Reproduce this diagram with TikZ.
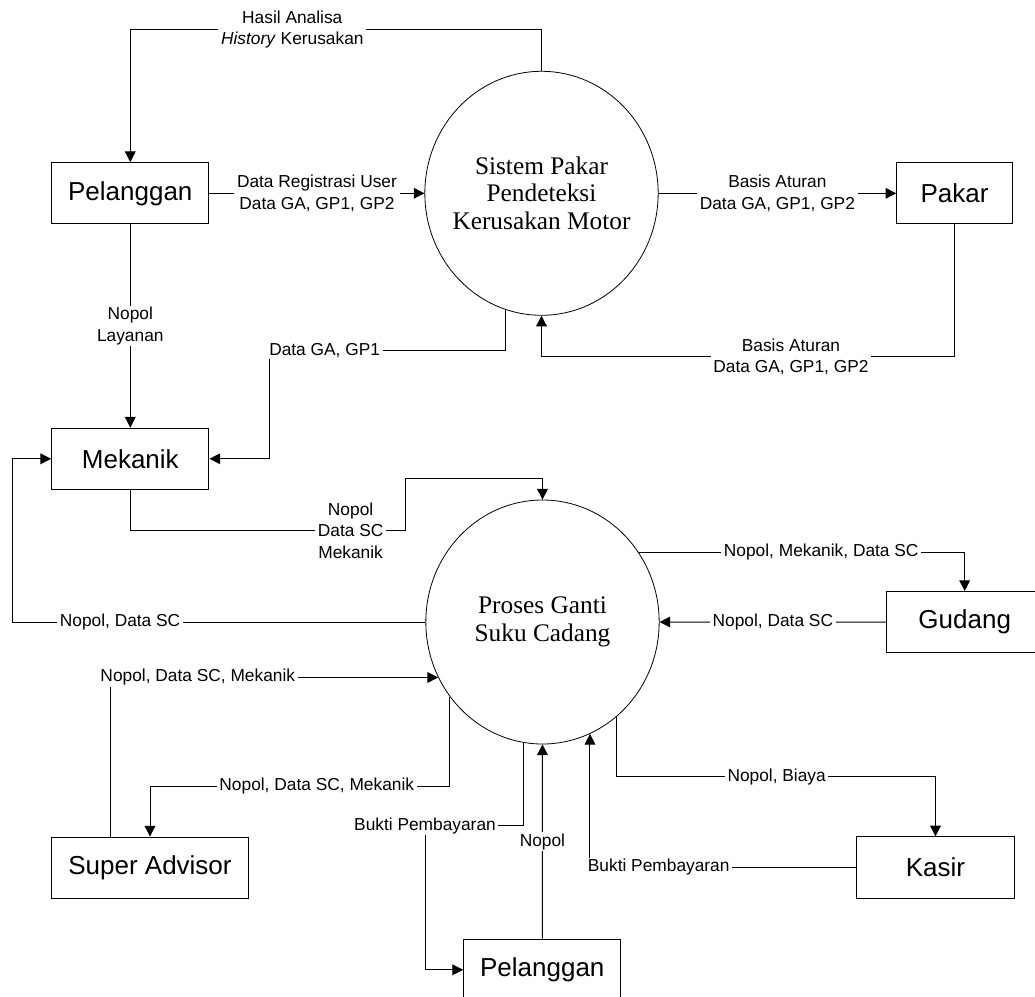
\documentclass[tikz,border=0pt]{standalone}
\usepackage{fontspec}
\setmainfont{Liberation Serif}
\setsansfont{Liberation Sans}
\usepackage{tikz}
\usetikzlibrary{positioning}
\usetikzlibrary{shapes.geometric}
\usetikzlibrary{arrows.meta}

\begin{document}
\begin{tikzpicture}[
  x=0.75pt, y=-0.75pt,
  font=\sffamily,
  % --- styles ---
  entity/.style={
    draw, line width=0.75pt, inner sep=0pt,
    minimum width=118pt, minimum height=46pt,
    font=\sffamily\fontsize{19.5}{23}\selectfont
  },
  process/.style={
    draw, ellipse, line width=0.6pt, inner sep=0pt,
    minimum width=175pt, minimum height=183pt
  },
  proctext/.style={align=center, inner sep=0pt, font=\rmfamily\fontsize{19}{20.6}\selectfont},
  flow/.style={-{Triangle[length=8pt, width=8pt]}, line width=0.75pt},
  lab/.style={fill=white, align=center, inner xsep=2pt, inner ysep=1pt,
    font=\sffamily\fontsize{13}{16}\selectfont}
]
\useasboundingbox (0,0) rectangle (1035,996);

% ======================================================
% Processes
% ======================================================
\node[process] (sys)  at (541.5,193.3) {};
\node[proctext] (sys-txt) at (sys) {Sistem Pakar\\Pendeteksi\\Kerusakan Motor};
\node[process] (proc) at (542.5,622) {};
\node[proctext] (proc-txt) at (proc) {Proses Ganti\\Suku Cadang};

% ======================================================
% External entities
% ======================================================
\node[entity] (pel1)  at (130.3,193.3) {Pelanggan};
\node[entity, minimum width=86.7pt] (pakar) at (954.5,193.3) {Pakar};
\node[entity] (mek)   at (130.3,458.8) {Mekanik};
\node[entity, minimum width=117pt] (gudang) at (964.7,622.2) {Gudang};
\node[entity, minimum width=147.5pt] (sa) at (150,867.7) {Super Advisor};
\node[entity] (kasir) at (935.5,867.5) {Kasir};
\node[entity] (pel2)  at (542.3,969.8) {Pelanggan};

% ======================================================
% Sistem pakar flows
% ======================================================
\draw[flow] (sys.north) -- ++(0,-41.3) -| node[lab, pos=0.303] {Hasil Analisa\\\textit{History} Kerusakan} (pel1.north);
\draw[flow] (pel1.east) -- node[lab] {Data Registrasi User\\Data GA, GP1, GP2} (sys.west);
\draw[flow] (sys.east) -- node[lab] {Basis Aturan\\Data GA, GP1, GP2} (pakar.west);
\draw[flow] (pakar.south) -- ++(0,132.4) -| node[lab, pos=0.198] {Basis Aturan\\Data GA, GP1, GP2} (sys.south);
\draw[flow] (sys.253.9) |- node[lab, pos=0.883] {Data GA, GP1} (269.3,350.7) |- (mek.east);
\draw[flow] (pel1.south) -- node[lab] {Nopol\\Layanan} (mek.north);

% ======================================================
% Proses ganti suku cadang flows
% ======================================================
\draw[flow] (mek.south) |- node[lab, pos=0.9] {Nopol\\Data SC\\Mekanik} (405.7,530.7) -- (405.7,478) -| (proc.north);
\draw[flow] (proc.west) -- node[lab, pos=0.739] {Nopol, Data SC} ++(-413.2,0) |- (mek.west);

\draw[flow] (proc.36.75) -| node[lab, pos=0.28] {Nopol, Mekanik, Data SC} (gudang.north);
\draw[flow] (gudang.west) -- node[lab] {Nopol, Data SC} (proc.east);

\draw[flow] (sa.north -| 110.7,0) |- node[lab, pos=0.633] {Nopol, Data SC, Mekanik} (proc.208.5);
\draw[flow] (proc.219.2) |- node[lab, pos=0.722] {Nopol, Data SC, Mekanik} (sa.north |- 0,786) -- (sa.north);

\draw[flow] (proc.261.7) |- node[lab, pos=1] {Bukti Pembayaran} (425,825.7) |- (pel2.west);
\draw[flow] (pel2.north) -- node[lab] {Nopol} (proc.south);

\draw[flow] (proc.308.2) |- node[lab, pos=0.751] {Nopol, Biaya} (kasir.north |- 0,776.7) -- (kasir.north);
\draw[flow] (kasir.west) -| node[lab, pos=0.371] {Bukti Pembayaran} (proc.293.4);

\end{tikzpicture}
\end{document}
